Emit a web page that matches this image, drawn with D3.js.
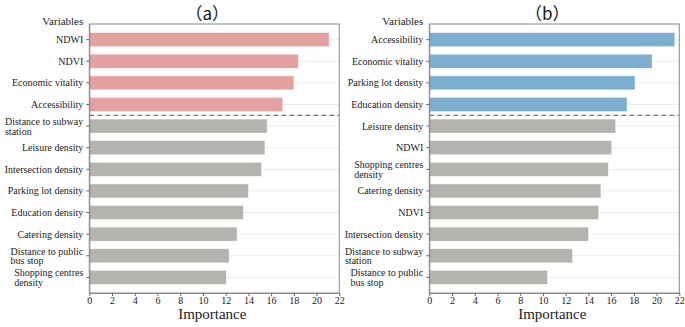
<!DOCTYPE html>
<html>
<head>
<meta charset="utf-8">
<script src="https://cdn.jsdelivr.net/npm/d3@7"></script>
<style>
  html, body { margin: 0; padding: 0; background: #fff; }
  svg { display: block; }
</style>
</head>
<body>
<svg id="chart" width="685" height="327"></svg>
<script>
// ---- Data ----
const namesA = ["NDWI", "NDVI", "Economic vitality", "Accessibility",
  "Distance to subway\nstation", "Leisure density", "Intersection density",
  "Parking lot density", "Education density", "Catering density",
  "Distance to public\nbus stop", "Shopping centres\ndensity"];
const valuesA = [21.1, 18.4, 18.0, 17.0, 15.65, 15.45, 15.15, 14.0, 13.55, 13.0, 12.3, 12.05];

const namesB = ["Accessibility", "Economic vitality", "Parking lot density", "Education density",
  "Leisure density", "NDWI", "Shopping centres\ndensity", "Catering density", "NDVI",
  "Intersection density", "Distance to subway\nstation", "Distance to public\nbus stop"];
const valuesB = [21.6, 19.6, 18.1, 17.4, 16.4, 16.05, 15.75, 15.1, 14.9, 14.0, 12.6, 10.4];

const xTicks = [0, 2, 4, 6, 8, 10, 12, 14, 16, 18, 20, 22];
const topN = 4;
const titles = ["（a）", "（b）"];

// ---- Styles ----
const serif = "'Liberation Serif', 'Times New Roman', serif";
const colors = { a: "#e4a19f", b: "#7baed0", rest: "#b4b3ae" };

const svg = d3.select("#chart");
const plotTop = 24, plotBottom = 293;

function panel(x0, x1, names, values, hiColor, title) {
  const g = svg.append("g");
  const x = d3.scaleLinear().domain([0, 22]).range([x0, x1]);
  const y = d3.scaleBand().domain(names).range([plotTop, plotBottom]).paddingInner(0.354).paddingOuter(0.4);

  // gridlines
  g.selectAll("line.grid").data(names).join("line")
    .attr("x1", x0).attr("x2", x1)
    .attr("y1", d => y(d) + y.bandwidth() / 2).attr("y2", d => y(d) + y.bandwidth() / 2)
    .attr("stroke", "#ececec").attr("stroke-width", 1);

  // bars
  g.selectAll("rect.bar").data(names).join("rect")
    .attr("x", x(0)).attr("y", d => y(d))
    .attr("width", (d, i) => x(values[i]) - x(0))
    .attr("height", y.bandwidth())
    .attr("fill", (d, i) => i < topN ? hiColor : colors.rest)
    .attr("stroke", "rgba(255,255,255,0.6)").attr("stroke-width", 0.6);

  // dashed separator
  const sepY = (y(names[topN - 1]) + y.bandwidth() + y(names[topN])) / 2;
  g.append("line").attr("x1", x0).attr("x2", x1).attr("y1", sepY).attr("y2", sepY)
    .attr("stroke", "#555").attr("stroke-width", 1).attr("stroke-dasharray", "5,3");

  // frame
  g.append("rect").attr("x", x0).attr("y", plotTop).attr("width", x1 - x0).attr("height", plotBottom - plotTop)
    .attr("fill", "none").attr("stroke", "#8a8a8a").attr("stroke-width", 1);

  // x axis
  const xa = g.append("g").attr("transform", `translate(0,${plotBottom})`)
    .call(d3.axisBottom(x).tickValues(xTicks).tickSize(3).tickSizeOuter(0).tickPadding(1).tickFormat(d3.format("d")));
  xa.select(".domain").attr("stroke", "#8a8a8a");
  xa.selectAll(".tick line").attr("stroke", "#666");
  xa.selectAll("text").attr("font-family", serif).attr("font-size", 10).attr("fill", "#222");

  // y axis
  const ya = g.append("g").attr("transform", `translate(${x0},0)`)
    .call(d3.axisLeft(y).tickSize(3).tickSizeOuter(0).tickPadding(3).tickFormat(""));
  ya.select(".domain").attr("stroke", "#8a8a8a");
  ya.selectAll(".tick line").attr("stroke", "#666");
  const labX = x0 - 6;
  names.forEach(n => {
    const lines = n.split("\n");
    const cy = y(n) + y.bandwidth() / 2;
    const t = g.append("text").attr("font-family", serif).attr("font-size", 10).attr("fill", "#222");
    if (lines.length === 1) {
      t.attr("x", labX).attr("y", cy + 3.5).attr("text-anchor", "end").text(lines[0]);
    } else {
      const t1 = t.append("tspan").attr("x", labX).attr("y", cy - 1).attr("text-anchor", "end").text(lines[0]);
      const w = t1.node().getComputedTextLength();
      t.append("tspan").attr("x", labX - w).attr("y", cy + 8.5).attr("text-anchor", "start").text(lines[1]);
    }
  });

  // "Variables"
  g.append("text").attr("x", x0 - 6).attr("y", 25).attr("text-anchor", "end")
    .attr("font-family", serif).attr("font-size", 11).attr("fill", "#222").text("Variables");

  // x label
  g.append("text").attr("x", (x0 + x1) / 2 - 2).attr("y", 319).attr("text-anchor", "middle")
    .attr("font-family", serif).attr("font-size", 15).attr("fill", "#222").text("Importance");

  // title
  g.append("text").attr("x", (x0 + x1) / 2 - 7).attr("y", 20).attr("text-anchor", "middle")
    .attr("font-family", "'Noto Sans CJK SC', sans-serif").attr("font-size", 17).attr("fill", "#111").text(title);
}

panel(89.3, 339.3, namesA, valuesA, colors.a, titles[0]);
panel(429.3, 679.3, namesB, valuesB, colors.b, titles[1]);
</script>
</body>
</html>
